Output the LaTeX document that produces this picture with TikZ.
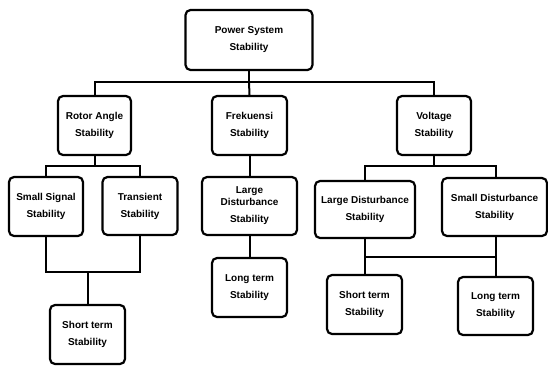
\documentclass[tikz,border=0pt]{standalone}
\usepackage{fontspec}
\setmainfont{Liberation Sans}
\begin{document}
\begin{tikzpicture}[x=1pt,y=-1pt,
  box/.style={draw, line width=2.2pt, rounded corners=5pt, inner sep=0pt, align=center,
    font=\bfseries\fontsize{10}{17}\selectfont},
  link/.style={line width=2pt}]
\useasboundingbox (0,0) rectangle (548,365);
% level 0
\node[box, minimum width=127pt, minimum height=60pt] (root) at (249,40) {Power System\\Stability};
% level 1
\node[box, minimum width=73pt, minimum height=59pt] (rotor) at (94.5,125.5) {Rotor Angle\\Stability};
\node[box, minimum width=75pt, minimum height=59pt] (frek) at (249.5,125.5) {Frekuensi\\Stability};
\node[box, minimum width=74pt, minimum height=59pt] (volt) at (434,125.5) {Voltage\\Stability};
% level 2
\node[box, minimum width=74pt, minimum height=59pt] (small) at (46,206.5) {Small Signal\\Stability};
\node[box, minimum width=75pt, minimum height=58pt] (trans) at (140,206) {Transient\\Stability};
\node[box, minimum width=95pt, minimum height=58pt] (largec) at (249.5,206) {Large\\[-5pt]Disturbance\\Stability};
\node[box, minimum width=100pt, minimum height=57pt] (larger) at (365,209.5) {Large Disturbance\\Stability};
\node[box, minimum width=105pt, minimum height=58pt] (smalld) at (494.5,207) {Small Disturbance\\Stability};
% level 3
\node[box, minimum width=75pt, minimum height=59pt] (shortl) at (87.5,334.5) {Short term\\Stability};
\node[box, minimum width=75pt, minimum height=59pt] (longc) at (249.5,287.5) {Long term\\Stability};
\node[box, minimum width=75pt, minimum height=59pt] (shortr) at (364.5,304.5) {Short term\\Stability};
\node[box, minimum width=75pt, minimum height=58pt] (longr) at (495.5,306) {Long term\\Stability};
% bus coordinates
\coordinate (b0) at (249,82);
\coordinate (b1) at (94.5,166);
\coordinate (b2) at (88,272);
\coordinate (b3) at (434,166);
\coordinate (b4) at (365,257);
\coordinate (sdx) at (496,0);
% connectors
\draw[link] (root.south) -- (b0);
\draw[link] (b0) -| (rotor.north);
\draw[link] (b0) -| (volt.north);
\draw[link] (b0) -- (frek.north);
\draw[link] (rotor.south) -- (b1);
\draw[link] (b1) -| (small.north);
\draw[link] (b1) -| (trans.north);
\draw[link] (small.south) |- (b2);
\draw[link] (trans.south) |- (b2);
\draw[link] (b2) -- (shortl.north -| b2);
\draw[link] (frek.south) -- (largec.north);
\draw[link] (largec.south) -- (longc.north);
\draw[link] (volt.south) -- (b3);
\draw[link] (b3) -| (larger.north);
\draw[link] (b3) -| (smalld.north -| sdx);
\draw[link] (larger.south) -- (shortr.north -| larger.south);
\draw[link] (b4) -| (smalld.south -| sdx);
\draw[link] (smalld.south -| sdx) -- (longr.north -| sdx);
\end{tikzpicture}
\end{document}
